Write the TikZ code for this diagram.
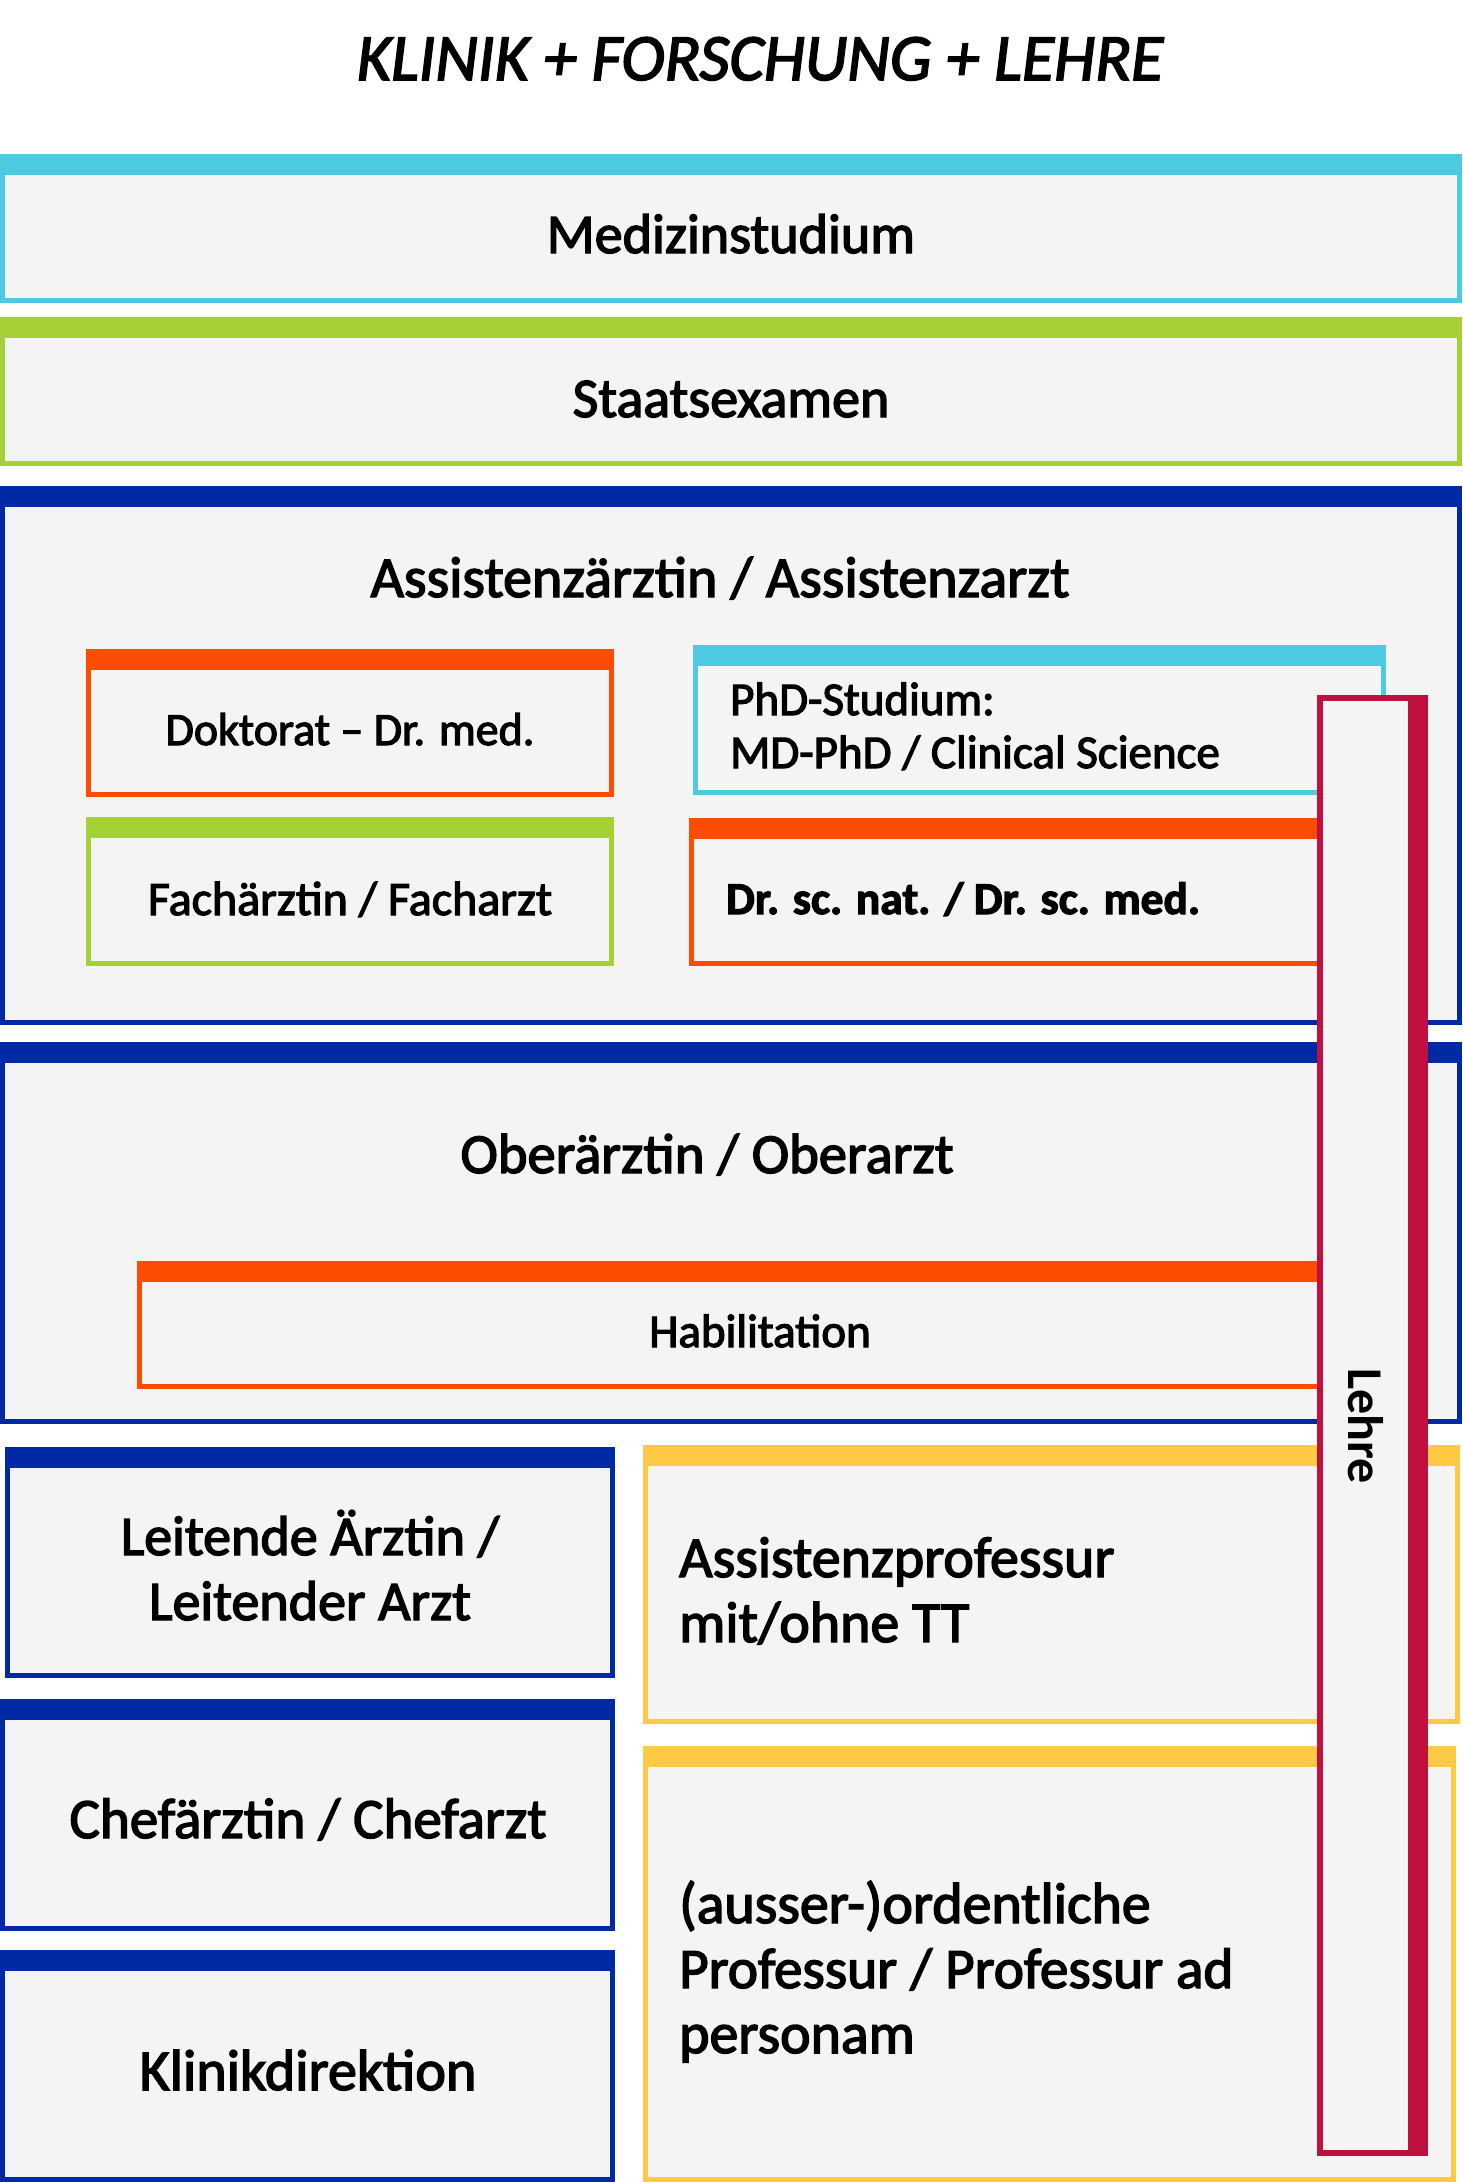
\documentclass[tikz,border=0pt]{standalone}
\usepackage{fontspec}
\setmainfont{Carlito}
\newfontfamily\sbf{Carlito}[FakeBold=2.5]
\definecolor{cCyan}{HTML}{4DC9E1}
\definecolor{cGreen}{HTML}{A5D036}
\definecolor{cBlue}{HTML}{0029A5}
\definecolor{cOrange}{HTML}{FC4C02}
\definecolor{cYellow}{HTML}{FFC845}
\definecolor{cRed}{HTML}{C0103F}
\definecolor{boxfill}{HTML}{F4F4F4}
\tikzset{
  tb/.style={draw=#1, fill=boxfill, line width=5pt, inner sep=0pt, outer sep=0pt,
    path picture={\fill[#1] (path picture bounding box.north west) rectangle ([yshift=-18pt]path picture bounding box.north east);}},
  tbr/.style={draw=#1, fill=boxfill, line width=6pt, inner sep=0pt, outer sep=0pt,
    path picture={\fill[#1] ([xshift=-17pt]path picture bounding box.north east) rectangle (path picture bounding box.south east);}},
  big/.style={inner sep=0pt, anchor=base, font=\sbf\fontsize{57}{60}\selectfont},
  bigl/.style={big, anchor=base west},
  small/.style={inner sep=0pt, anchor=base, font=\sbf\fontsize{47}{50}\selectfont},
  smalll/.style={small, anchor=base west},
}
\newcommand\mkbox[7][tb]{\node[#1=#3, minimum width={(#6)-(#4)-5}, minimum height={(#7)-(#5)-5}] (#2) at ({((#4)+(#6))/2},{((#5)+(#7))/2}) {};}
\begin{document}
\begin{tikzpicture}[x=1pt,y=-1pt]
\useasboundingbox[fill=white] (0,0) rectangle (1462,2182);
% title
\node[inner sep=0pt, anchor=base, font=\sbf\itshape\fontsize{66}{70}\selectfont] (title) at (760,80) {KLINIK + FORSCHUNG + LEHRE};
% top rows
\mkbox{med}{cCyan}{0}{154}{1462}{303}
\node[big, font=\sbf\fontsize{56}{60}\selectfont] (tmed) at (731,253) {Medizinstudium};
\mkbox{staat}{cGreen}{0}{317}{1462}{466}
\node[big, font=\sbf\fontsize{56}{60}\selectfont] (tstaat) at (731,417) {Staatsexamen};
% Assistenz
\mkbox{assist}{cBlue}{0}{486}{1462}{1025}
\node[big, font=\sbf\fontsize{57.8}{60}\selectfont] (tassist) at (720,597) {Assistenzärztin / Assistenzarzt};
\mkbox{dokt}{cOrange}{86}{649}{614}{797}
\node[small, font=\sbf\fontsize{46}{50}\selectfont] (tdokt) at (350,745) {Doktorat – Dr. med.};
\mkbox{phd}{cCyan}{693}{645}{1386}{795}
\node[smalll] (tphda) at (730,715) {PhD-Studium:};
\node[smalll] (tphdb) at (730,768) {MD-PhD / Clinical Science};
\mkbox{fach}{cGreen}{86}{817}{614}{966}
\node[small, font=\sbf\fontsize{48}{50}\selectfont] (tfach) at (350,915) {Fachärztin / Facharzt};
\mkbox{drsc}{cOrange}{689}{818}{1340}{966}
\node[smalll, font=\sbf\bfseries\fontsize{45.5}{50}\selectfont] (tdrsc) at (726,914) {Dr. sc. nat. / Dr. sc. med.};
% Oberarzt
\mkbox{ober}{cBlue}{0}{1042}{1462}{1424}
\node[big, font=\sbf\fontsize{56.5}{60}\selectfont] (tober) at (707,1173) {Oberärztin / Oberarzt};
\mkbox{habil}{cOrange}{137}{1261}{1340}{1389}
\node[small] (thabil) at (760,1347) {Habilitation};
% lower left
\mkbox{leit}{cBlue}{5}{1447}{615}{1678}
\node[big, font=\sbf\fontsize{56}{60}\selectfont] (tleita) at (310,1555) {Leitende Ärztin /};
\node[big, font=\sbf\fontsize{56}{60}\selectfont] (tleitb) at (310,1620) {Leitender Arzt};
\mkbox{chef}{cBlue}{0}{1699}{615}{1931}
\node[big] (tchef) at (308,1838) {Chefärztin / Chefarzt};
\mkbox{klinik}{cBlue}{0}{1950}{615}{2182}
\node[big, font=\sbf\fontsize{58}{60}\selectfont] (tklinik) at (308,2090) {Klinikdirektion};
% lower right
\mkbox{prof}{cYellow}{643}{1445}{1460}{1724}
\node[bigl, font=\sbf\fontsize{57.8}{60}\selectfont] (tprofa) at (679,1577) {Assistenzprofessur};
\node[bigl, font=\sbf\fontsize{57.8}{60}\selectfont] (tprofb) at (679,1642) {mit/ohne TT};
\mkbox{ordent}{cYellow}{643}{1746}{1456}{2182}
\node[bigl, font=\sbf\fontsize{57.8}{60}\selectfont] (torda) at (679,1923) {(ausser-)ordentliche};
\node[bigl, font=\sbf\fontsize{57.2}{60}\selectfont] (tordb) at (679,1988) {Professur / Professur ad};
\node[bigl, font=\sbf\fontsize{57.8}{60}\selectfont] (tordc) at (679,2053) {personam};
% Lehre
\node[tbr=cRed, minimum width=105, minimum height=1455] (lehre) at (1372.5,1425.5) {};
\node[inner sep=0pt, rotate=-90, anchor=base, font=\bfseries\fontsize{50}{54}\selectfont] (tlehre) at (1348,1426) {Lehre};
\end{tikzpicture}
\end{document}
